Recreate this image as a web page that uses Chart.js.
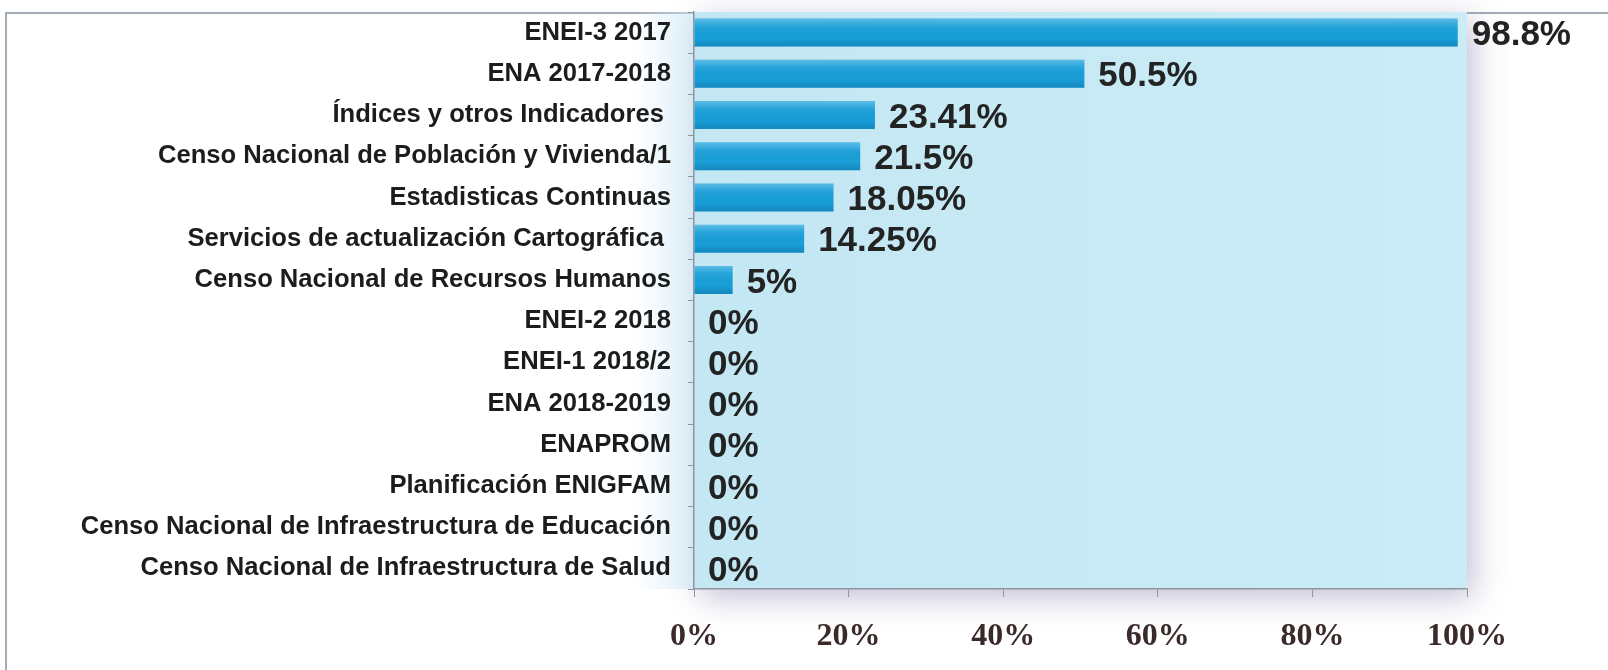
<!DOCTYPE html>
<html>
<head>
<meta charset="utf-8">
<script src="https://cdn.jsdelivr.net/npm/chart.js@4/dist/chart.umd.min.js"></script>
<style>
  html, body { margin: 0; padding: 0; background: #ffffff; }
  #wrap { width: 1608px; height: 670px; position: relative; }
</style>
</head>
<body>
<div id="wrap"><canvas id="c" width="1608" height="670"></canvas></div>
<script>
const categories = [
  "ENEI-3 2017",
  "ENA 2017-2018",
  "Índices y otros Indicadores ",
  "Censo Nacional de Población y Vivienda/1",
  "Estadisticas Continuas",
  "Servicios de actualización Cartográfica ",
  "Censo Nacional de Recursos Humanos",
  "ENEI-2 2018",
  "ENEI-1 2018/2",
  "ENA 2018-2019",
  "ENAPROM",
  "Planificación ENIGFAM",
  "Censo Nacional de Infraestructura de Educación",
  "Censo Nacional de Infraestructura de Salud"
];
const values = [98.8, 50.5, 23.41, 21.5, 18.05, 14.25, 5, 0, 0, 0, 0, 0, 0, 0];
const valueLabels = ["98.8%", "50.5%", "23.41%", "21.5%", "18.05%", "14.25%", "5%", "0%", "0%", "0%", "0%", "0%", "0%", "0%"];
const xTicks = [0, 20, 40, 60, 80, 100];

const backgroundPlugin = {
  id: 'bgPlugin',
  beforeDraw(chart) {
    const { ctx, chartArea: a } = chart;
    ctx.save();
    ctx.strokeStyle = '#a3acb6';
    ctx.lineWidth = 2;
    ctx.beginPath();
    ctx.moveTo(6, 670);
    ctx.lineTo(6, 13);
    ctx.lineTo(1608, 13);
    ctx.stroke();
    ctx.shadowColor = 'rgba(120,110,160,0.45)';
    ctx.shadowBlur = 30;
    ctx.shadowOffsetX = 6;
    ctx.shadowOffsetY = 8;
    ctx.fillStyle = '#c7eaf5';
    ctx.fillRect(a.left, a.top, a.right - a.left, a.bottom - a.top);
    ctx.restore();
    ctx.save();
    const g = ctx.createLinearGradient(a.left, 0, a.right, 0);
    g.addColorStop(0, '#c3e7f3');
    g.addColorStop(1, '#cbecf6');
    ctx.fillStyle = g;
    ctx.fillRect(a.left, a.top, a.right - a.left, a.bottom - a.top);
    const g2 = ctx.createLinearGradient(a.left - 60, 0, a.left, 0);
    g2.addColorStop(0, 'rgba(200,230,245,0)');
    g2.addColorStop(1, 'rgba(200,230,245,0.6)');
    ctx.fillStyle = g2;
    ctx.fillRect(a.left - 60, a.top, 60, a.bottom - a.top);
    ctx.restore();
  }
};

const barDecor = {
  id: 'barDecor',
  afterDatasetsDraw(chart) {
    const { ctx } = chart;
    const meta = chart.getDatasetMeta(0);
    ctx.save();
    meta.data.forEach((bar, i) => {
      const w = bar.x - bar.base;
      if (w > 0.5) {
        const top = bar.y - bar.height / 2;
        const g = ctx.createLinearGradient(0, top, 0, top + bar.height);
        g.addColorStop(0, 'rgba(255,255,255,0.30)');
        g.addColorStop(0.25, 'rgba(255,255,255,0.08)');
        g.addColorStop(0.7, 'rgba(0,0,0,0)');
        g.addColorStop(1, 'rgba(0,40,80,0.18)');
        ctx.fillStyle = g;
        ctx.fillRect(bar.base, top, w, bar.height);
      }
      ctx.font = 'bold 35px "Liberation Sans", Arial, sans-serif';
      ctx.fillStyle = '#232323';
      ctx.textAlign = 'left';
      ctx.textBaseline = 'middle';
      ctx.fillText(valueLabels[i], bar.x + 14, bar.y + 3);
    });
    ctx.restore();
  }
};

new Chart(document.getElementById('c'), {
  type: 'bar',
  data: {
    labels: categories,
    datasets: [{
      data: values,
      backgroundColor: '#189fd9',
      borderWidth: 0,
      barPercentage: 0.68,
      categoryPercentage: 1.0
    }]
  },
  options: {
    indexAxis: 'y',
    responsive: false,
    animation: false,
    devicePixelRatio: 1,
    layout: { padding: { left: 0, right: 141, top: 12, bottom: 0 } },
    plugins: { legend: { display: false }, tooltip: { enabled: false } },
    scales: {
      y: {
        afterFit(s) { s.width = 694; s.paddingTop = 0; s.paddingBottom = 0; },
        border: { display: true, color: '#8e969e', width: 1.5 },
        grid: { drawOnChartArea: false, drawTicks: true, tickLength: 6, color: '#8e969e', offset: true },
        ticks: {
          padding: 17,
          color: '#1c1c1c',
          font: { family: '"Liberation Sans", Arial, sans-serif', size: 25.6, weight: 'bold' }
        }
      },
      x: {
        min: 0,
        max: 100,
        afterFit(s) { s.height = 81; s.paddingLeft = 0; s.paddingRight = 0; },
        afterBuildTicks(s) { s.ticks = xTicks.map(v => ({ value: v })); },
        border: { display: true, color: '#8e969e', width: 1.5 },
        grid: { drawOnChartArea: false, drawTicks: true, tickLength: 8, color: '#8e969e' },
        ticks: {
          padding: 21,
          color: '#3a2a2a',
          callback: v => v + '%',
          font: { family: '"Liberation Serif", "Times New Roman", serif', size: 32, weight: 'bold' }
        }
      }
    }
  },
  plugins: [backgroundPlugin, barDecor]
});
</script>
</body>
</html>
